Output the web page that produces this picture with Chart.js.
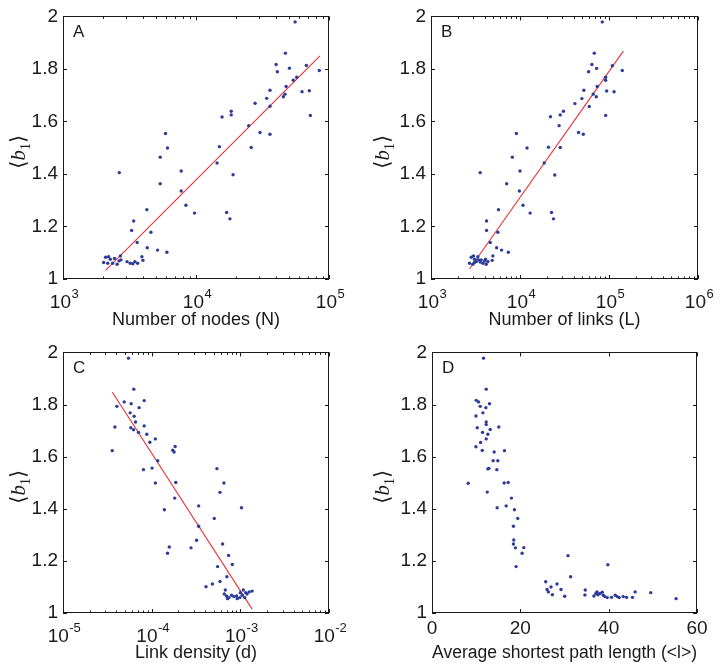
<!DOCTYPE html>
<html>
<head>
<meta charset="utf-8">
<script src="https://cdn.jsdelivr.net/npm/chart.js@4.4.1/dist/chart.umd.min.js"></script>
<style>
  body { margin: 0; background: #fff; }
  #wrap { position: relative; width: 720px; height: 672px; }
  canvas { position: absolute; }
</style>
</head>
<body>
<div id="wrap">
  <canvas id="cA" width="360" height="336" style="left:0;top:0"></canvas>
  <canvas id="cB" width="360" height="336" style="left:360px;top:0"></canvas>
  <canvas id="cC" width="360" height="336" style="left:0;top:336px"></canvas>
  <canvas id="cD" width="360" height="336" style="left:360px;top:336px"></canvas>
</div>
<script>
// ---- data ----
const nodesN = [55600, 47000, 40000, 40900, 50400, 67600, 84500, 57200, 53900, 47600, 46700, 45400, 62700, 71100, 72400, 36000, 34000, 36000, 27800, 18400, 18400, 15700, 24900, 30300, 36000, 26000, 15000, 14400, 19000, 17000, 18000, 7740, 7740, 8400, 9750, 5900, 6110, 5380, 5380, 4270, 4580, 4300, 5140, 6040, 2650, 3400, 3280, 3610, 3920, 3990, 2090, 2200, 2270, 2360, 2440, 2550, 2640, 2170, 2020, 3030, 3200, 3350, 3470, 3640, 2700, 2730];
const b1A = [1.979, 1.860, 1.817, 1.789, 1.803, 1.813, 1.794, 1.768, 1.757, 1.733, 1.704, 1.694, 1.713, 1.717, 1.623, 1.719, 1.688, 1.658, 1.669, 1.639, 1.625, 1.617, 1.584, 1.558, 1.551, 1.501, 1.504, 1.442, 1.397, 1.253, 1.229, 1.411, 1.335, 1.281, 1.251, 1.554, 1.499, 1.464, 1.363, 1.264, 1.178, 1.119, 1.110, 1.102, 1.405, 1.221, 1.185, 1.139, 1.085, 1.071, 1.083, 1.085, 1.075, 1.060, 1.078, 1.056, 1.069, 1.060, 1.063, 1.066, 1.060, 1.058, 1.066, 1.060, 1.088, 1.073];
const fitAx = [2090, 85500];
const fitAy = [1.033, 1.850];

const linksL = [84100, 68300, 64300, 72600, 59000, 109000, 141000, 91700, 91700, 73800, 66500, 72000, 94200, 114000, 91700, 52200, 49600, 60000, 41400, 30800, 28300, 22000, 27500, 45500, 51400, 28300, 20900, 18700, 24600, 22600, 23800, 10000, 9830, 10800, 13000, 9100, 12000, 8200, 7080, 5740, 5640, 5460, 6210, 7390, 3570, 4210, 4210, 4630, 4960, 4870, 2710, 2830, 3000, 3080, 2950, 3220, 3420, 3570, 3830, 4000, 4170, 4360, 3660, 4100, 3360, 3080];
const b1B = [1.979, 1.860, 1.817, 1.802, 1.789, 1.812, 1.794, 1.768, 1.757, 1.733, 1.704, 1.694, 1.716, 1.713, 1.623, 1.719, 1.687, 1.657, 1.668, 1.639, 1.625, 1.618, 1.584, 1.558, 1.551, 1.501, 1.502, 1.442, 1.396, 1.253, 1.229, 1.411, 1.335, 1.281, 1.251, 1.554, 1.499, 1.464, 1.363, 1.264, 1.178, 1.119, 1.110, 1.102, 1.405, 1.221, 1.185, 1.139, 1.088, 1.071, 1.060, 1.083, 1.088, 1.075, 1.056, 1.066, 1.073, 1.065, 1.060, 1.069, 1.056, 1.066, 1.073, 1.075, 1.085, 1.063];
const fitBx = [2710, 145000];
const fitBy = [1.038, 1.868];

const densityD = [5.48e-5, 6.29e-5, 8.23e-5, 4.90e-5, 5.87e-5, 4.05e-5, 7.22e-5, 5.72e-5, 6.34e-5, 6.57e-5, 3.85e-5, 8.23e-5, 5.82e-5, 6.24e-5, 7.10e-5, 8.81e-5, 1.10e-4, 9.53e-5, 3.59e-5, 1.84e-4, 1.73e-4, 1.79e-4, 1.17e-4, 8.08e-5, 1.01e-4, 1.10e-4, 1.87e-4, 1.82e-4, 1.39e-4, 1.58e-4, 1.51e-4, 3.39e-4, 3.39e-4, 3.21e-4, 2.78e-4, 5.45e-4, 6.53e-4, 5.89e-4, 5.08e-4, 6.31e-4, 5.54e-4, 5.89e-4, 4.83e-4, 4.10e-4, 1.03e-3, 7.37e-4, 8.11e-4, 7.06e-4, 6.77e-4, 6.59e-4, 6.99e-4, 7.43e-4, 7.96e-4, 8.46e-4, 9.06e-4, 7.18e-4, 9.88e-4, 1.05e-3, 1.12e-3, 1.19e-3, 1.26e-3, 1.36e-3, 1.15e-3, 1.00e-3, 1.08e-3, 9.23e-4];
const b1C = [1.978, 1.859, 1.815, 1.810, 1.803, 1.793, 1.788, 1.768, 1.755, 1.733, 1.714, 1.718, 1.711, 1.703, 1.693, 1.686, 1.668, 1.655, 1.623, 1.639, 1.625, 1.618, 1.584, 1.550, 1.556, 1.499, 1.501, 1.441, 1.396, 1.253, 1.229, 1.411, 1.333, 1.279, 1.250, 1.554, 1.499, 1.463, 1.363, 1.265, 1.178, 1.121, 1.111, 1.101, 1.404, 1.221, 1.186, 1.139, 1.088, 1.073, 1.065, 1.059, 1.068, 1.063, 1.065, 1.055, 1.059, 1.068, 1.059, 1.073, 1.081, 1.084, 1.078, 1.078, 1.088, 1.055];
const fitCx = [3.59e-5, 1.36e-3];
const fitCy = [1.848, 1.015];

const pathLen = [11.67, 12.27, 10.01, 10.54, 13.02, 10.92, 12.20, 11.52, 9.94, 12.27, 12.27, 10.24, 15.13, 13.17, 11.44, 12.65, 12.27, 11.0, 9.94, 11.37, 14.08, 16.41, 13.85, 14.91, 12.87, 12.65, 14.68, 8.21, 16.34, 17.24, 12.50, 17.99, 14.75, 16.79, 18.67, 19.42, 18.44, 18.52, 18.44, 18.89, 20.78, 20.40, 19.05, 30.79, 39.82, 31.39, 25.75, 28.31, 26.95, 26.05, 29.21, 26.35, 27.25, 30.04, 34.70, 34.62, 46.0, 49.53, 55.26, 36.66, 37.11, 37.57, 38.02, 38.55, 38.77, 39.14, 39.67, 40.65, 41.48, 41.93, 42.38, 43.29, 44.04, 45.39, 37.35];
const b1D = [1.978, 1.859, 1.816, 1.810, 1.803, 1.793, 1.788, 1.768, 1.756, 1.733, 1.723, 1.711, 1.714, 1.704, 1.693, 1.686, 1.668, 1.654, 1.638, 1.624, 1.618, 1.623, 1.584, 1.584, 1.555, 1.553, 1.550, 1.498, 1.499, 1.501, 1.464, 1.441, 1.404, 1.411, 1.396, 1.363, 1.333, 1.280, 1.265, 1.250, 1.251, 1.229, 1.178, 1.220, 1.185, 1.139, 1.120, 1.111, 1.100, 1.090, 1.090, 1.081, 1.070, 1.064, 1.088, 1.069, 1.081, 1.078, 1.055, 1.065, 1.075, 1.070, 1.075, 1.080, 1.068, 1.063, 1.059, 1.060, 1.068, 1.063, 1.059, 1.063, 1.060, 1.060, 1.081];

// tick positions
const yTicks = [1, 1.2, 1.4, 1.6, 1.8, 2];
const decadesA = [3, 4, 5];
const decadesB = [3, 4, 5, 6];
const decadesC = [-5, -4, -3, -2];
const pathTicks = [0, 20, 40, 60];

// ---- helpers ----
const DOT = '#2b3d99';
const RED = '#e8323a';
const INK = '#1a1a1a';
const SANS = '"Liberation Sans", Arial, Helvetica, sans-serif';

const zip = (xs, ys) => xs.map((x, i) => ({x: x, y: ys[i]}));

function logTicks(decades) {
  const out = [];
  for (let i = 0; i < decades.length; i++) {
    const base = Math.pow(10, decades[i]);
    out.push({value: base, major: true});
    if (i < decades.length - 1) {
      for (let m = 2; m <= 9; m++) out.push({value: m * base, major: false});
    }
  }
  return out;
}

// frame with inward ticks, 10^n labels, panel letter and the <b1> label
const framePlugin = {
  id: 'frame',
  afterDatasetsDraw(chart, args, opts) {
    const {ctx, chartArea: a, scales} = chart;
    const xs = scales.x, ys = scales.y;
    ctx.save();
    ctx.strokeStyle = INK;
    ctx.lineWidth = 1;
    ctx.strokeRect(Math.round(a.left) + 0.5, Math.round(a.top) + 0.5,
                   Math.round(a.right - a.left) - 1, Math.round(a.bottom - a.top) - 1);
    ctx.beginPath();
    xs.ticks.forEach(t => {
      const px = Math.round(xs.getPixelForValue(t.value)) + 0.5;
      const len = t.major ? 4 : 2.5;
      ctx.moveTo(px, a.bottom); ctx.lineTo(px, a.bottom - len);
      ctx.moveTo(px, a.top); ctx.lineTo(px, a.top + len);
    });
    ys.ticks.forEach(t => {
      const py = Math.round(ys.getPixelForValue(t.value)) + 0.5;
      ctx.moveTo(a.left, py); ctx.lineTo(a.left + 4, py);
      ctx.moveTo(a.right, py); ctx.lineTo(a.right - 4, py);
    });
    ctx.stroke();

    ctx.fillStyle = INK;
    ctx.textBaseline = 'alphabetic';
    ctx.textAlign = 'left';

    // power-of-ten labels on log axes
    if (xs.type === 'logarithmic') {
      xs.ticks.filter(t => t.major).forEach(t => {
        const e = String(Math.round(Math.log10(t.value)));
        ctx.font = '19px ' + SANS;
        const wb = ctx.measureText('10').width;
        ctx.font = '13px ' + SANS;
        const we = ctx.measureText(e).width;
        const px = xs.getPixelForValue(t.value);
        const x0 = px - (wb + we) / 2 + 1;
        const base = a.bottom + 29;
        ctx.font = '19px ' + SANS;
        ctx.fillText('10', x0, base);
        ctx.font = '13px ' + SANS;
        ctx.fillText(e, x0 + wb + 0.5, base - 10);
      });
    }

    // panel letter
    ctx.font = '17px ' + SANS;
    ctx.fillText(opts.letter, a.left + 10, a.top + 21);

    // y label  <b1>
    const size = 21;
    const parts = [
      {t: '\u27E8', f: size + 'px "DejaVu Sans", "Noto Sans", serif', dy: 0},
      {t: 'b', f: 'italic ' + size + 'px "Liberation Serif", "DejaVu Serif", serif', dy: 0},
      {t: '1', f: Math.round(size * 0.68) + 'px "Liberation Serif", "DejaVu Serif", serif', dy: size * 0.22},
      {t: '\u27E9', f: size + 'px "DejaVu Sans", "Noto Sans", serif', dy: 0}
    ];
    let total = 0;
    parts.forEach(p => { ctx.font = p.f; p.w = ctx.measureText(p.t).width; total += p.w; });
    ctx.translate(opts.labelX, (a.top + a.bottom) / 2 + 4);
    ctx.rotate(-Math.PI / 2);
    let x = -total / 2;
    parts.forEach(p => {
      ctx.font = p.f;
      ctx.fillText(p.t, x, size * 0.33 + p.dy);
      x += p.w;
    });
    ctx.restore();
  }
};

function makeChart(id, o) {
  const datasets = [{
    type: 'scatter',
    data: zip(o.xs, o.ys),
    backgroundColor: DOT,
    borderWidth: 0,
    pointRadius: 1.7,
    pointHoverRadius: 1.7
  }];
  if (o.fitX) {
    datasets.push({
      type: 'line',
      data: zip(o.fitX, o.fitY),
      borderColor: RED,
      borderWidth: 1.1,
      pointRadius: 0,
      fill: false,
      tension: 0
    });
  }
  const xScale = o.decades ? {
    type: 'logarithmic',
    min: Math.pow(10, o.decades[0]),
    max: Math.pow(10, o.decades[o.decades.length - 1]),
    afterBuildTicks: s => { s.ticks = logTicks(o.decades); },
    ticks: {display: false}
  } : {
    type: 'linear',
    min: o.ticks[0],
    max: o.ticks[o.ticks.length - 1],
    afterBuildTicks: s => { s.ticks = o.ticks.map(v => ({value: v, major: true})); },
    ticks: {callback: v => String(v)}
  };
  Object.assign(xScale.ticks, {
    autoSkip: false, maxRotation: 0, minRotation: 0, padding: o.xPad,
    color: INK, font: {family: SANS, size: 19}
  });
  xScale.grid = {display: false, drawTicks: false};
  xScale.border = {display: false};
  xScale.title = {display: true, text: o.xTitle, color: INK,
                  font: {family: SANS, size: 18}, padding: {top: 0, bottom: o.titlePad}};
  xScale.afterFit = s => { s.height = o.xh; };

  return new Chart(document.getElementById(id), {
    data: {datasets: datasets},
    options: {
      responsive: false,
      animation: false,
      devicePixelRatio: 1,
      layout: {autoPadding: false, padding: {left: 0, top: o.top, right: o.right, bottom: 0}},
      plugins: {legend: {display: false}, tooltip: {enabled: false},
                frame: {letter: o.letter, labelX: o.labelX}},
      scales: {
        x: xScale,
        y: {
          type: 'linear', min: 1, max: 2,
          afterBuildTicks: s => { s.ticks = yTicks.map(v => ({value: v, major: true})); },
          ticks: {padding: 5, color: INK, font: {family: SANS, size: 19},
                  callback: v => String(+v.toFixed(1))},
          grid: {display: false, drawTicks: false},
          border: {display: false},
          afterFit: s => { s.width = o.yw; }
        }
      }
    },
    plugins: [framePlugin]
  });
}

makeChart('cA', {xs: nodesN, ys: b1A, fitX: fitAx, fitY: fitAy, decades: decadesA,
  xTitle: 'Number of nodes (N)', letter: 'A', yw: 63, xh: 57, top: 13, right: 31,
  xPad: 10, titlePad: 5, labelX: 18});
makeChart('cB', {xs: linksL, ys: b1B, fitX: fitBx, fitY: fitBy, decades: decadesB,
  xTitle: 'Number of links (L)', letter: 'B', yw: 71, xh: 57, top: 13, right: 22,
  xPad: 10, titlePad: 5, labelX: 22});
makeChart('cC', {xs: densityD, ys: b1C, fitX: fitCx, fitY: fitCy, decades: decadesC,
  xTitle: 'Link density (d)', letter: 'C', yw: 63, xh: 59, top: 10, right: 31,
  xPad: 10, titlePad: 8, labelX: 18});
makeChart('cD', {xs: pathLen, ys: b1D, ticks: pathTicks,
  xTitle: 'Average shortest path length (<l>)', letter: 'D', yw: 72, xh: 59, top: 10, right: 23,
  xPad: 4, titlePad: 8, labelX: 22});
</script>
</body>
</html>
